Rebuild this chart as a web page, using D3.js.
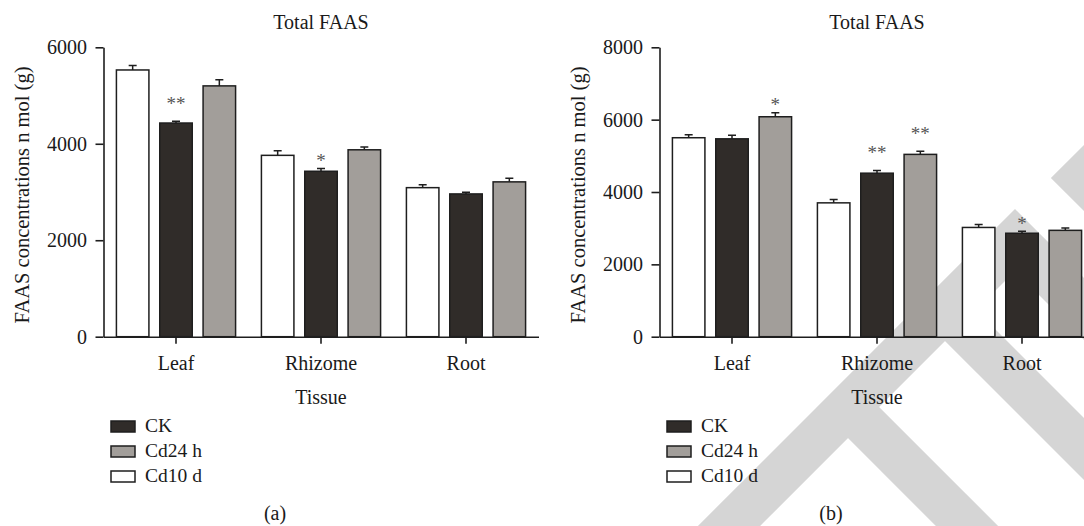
<!DOCTYPE html>
<html>
<head>
<meta charset="utf-8">
<script src="https://cdn.jsdelivr.net/npm/d3@7"></script>
<style>
  body { margin: 0; background: #fff; }
  svg text { font-family: "Liberation Serif", "DejaVu Serif", serif; fill: #1a1a1a; }
</style>
</head>
<body>
<svg width="1084" height="526"></svg>
<script>
const tissues = ["Leaf", "Rhizome", "Root"];
const series = ["Cd10 d", "CK", "Cd24 h"];       // order of bars in each group
const legendOrder = ["CK", "Cd24 h", "Cd10 d"];
const fills = { "CK": "#302c29", "Cd24 h": "#a29e9a", "Cd10 d": "#ffffff" };

// panel (a)
const aCd10 = [5530, 3760, 3090];
const aCK = [4430, 3430, 2960];
const aCd24 = [5200, 3875, 3210];
const aCd10Err = [95, 95, 60];
const aCKErr = [35, 55, 35];
const aCd24Err = [125, 60, 75];
const aStarsCK = ["**", "*", ""];
const aStarsCd24 = ["", "", ""];
const aTicks = [0, 2000, 4000, 6000];

// panel (b)
const bCd10 = [5500, 3700, 3020];
const bCK = [5470, 4520, 2860];
const bCd24 = [6080, 5040, 2940];
const bCd10Err = [85, 95, 85];
const bCKErr = [100, 75, 55];
const bCd24Err = [110, 85, 65];
const bStarsCK = ["", "**", "*"];
const bStarsCd24 = ["*", "**", ""];
const bTicks = [0, 2000, 4000, 6000, 8000];

const svg = d3.select("svg");

// light grey watermark behind panel (b)
const wm = svg.append("g").attr("fill", "none").attr("stroke", "#d5d5d5")
  .attr("stroke-width", 44).attr("stroke-linejoin", "miter");
[
  "M670,585 L1015,240 L1130,355",
  "M848,407 L1000,559",
  "M935,300 L1120,485",
  "M1160,100 L1082,178 L1160,256"
].forEach(d => wm.append("path").attr("d", d));

const plotW = 435, plotTop = 47.3, plotBottom = 336.7;

function panel(ox, values, errs, stars, ticks, tag) {
  const g = svg.append("g").attr("transform", `translate(${ox},0)`);

  const x0 = d3.scaleBand().domain(tissues).range([0, plotW]);
  const x1 = d3.scaleBand().domain(series)
    .range([(x0.bandwidth() - 130) / 2, (x0.bandwidth() + 130) / 2])
    .paddingInner(0.25).paddingOuter(0.125);
  const y = d3.scaleLinear().domain([0, d3.max(ticks)]).range([plotBottom, plotTop]);

  const rows = [];
  tissues.forEach((t, i) => {
    series.forEach(s => {
      rows.push({ t, s, v: values[s][i], e: errs[s][i], star: (stars[s] || [])[i] || "" });
    });
  });

  const bars = g.selectAll(".bar").data(rows).enter().append("g")
    .attr("transform", d => `translate(${x0(d.t) + x1(d.s)},0)`);

  bars.append("rect")
    .attr("x", 0).attr("width", x1.bandwidth())
    .attr("y", d => y(d.v)).attr("height", d => y(0) - y(d.v))
    .attr("fill", d => fills[d.s]).attr("stroke", "#1e1e1e").attr("stroke-width", 1.5);

  const cx = x1.bandwidth() / 2;
  bars.append("path")
    .attr("d", d => `M${cx},${y(d.v)}V${y(d.v + d.e)}M${cx - 4},${y(d.v + d.e)}H${cx + 4}`)
    .attr("stroke", "#1e1e1e").attr("stroke-width", 1.5).attr("fill", "none");

  bars.filter(d => d.star).append("text")
    .attr("x", cx).attr("y", d => y(d.v + d.e) - (d.star.length > 1 ? 11.5 : 1.5))
    .attr("text-anchor", "middle").style("font-size", "19px").style("fill", "#555")
    .text(d => d.star);

  const yAxis = g.append("g").call(d3.axisLeft(y).tickValues(ticks).tickSize(8)
    .tickSizeOuter(0).tickPadding(8.5).tickFormat(d3.format("d")));
  const xAxis = g.append("g").attr("transform", `translate(0,${plotBottom})`)
    .call(d3.axisBottom(x0).tickSize(7).tickSizeOuter(0));
  [yAxis, xAxis].forEach(a => {
    a.selectAll("path, line").attr("stroke", "#1e1e1e").attr("stroke-width", 1.6);
    a.selectAll("text").style("font-size", "20px").style("fill", "#1a1a1a")
      .attr("font-family", null);
  });
  xAxis.selectAll("text").attr("dy", null).attr("y", 33.5);

  g.append("text").attr("x", plotW / 2).attr("y", 29.3).attr("text-anchor", "middle")
    .style("font-size", "20px").text("Total FAAS");
  g.append("text").attr("x", plotW / 2).attr("y", 404).attr("text-anchor", "middle")
    .style("font-size", "20px").text("Tissue");
  g.append("text").attr("transform", `translate(-75,${(plotTop + plotBottom) / 2 + 3}) rotate(-90)`)
    .attr("text-anchor", "middle").style("font-size", "20.5px")
    .text("FAAS concentrations n mol (g)");

  const leg = g.selectAll(".leg").data(legendOrder).enter().append("g")
    .attr("transform", (d, i) => `translate(7.5,${421 + i * 25})`);
  leg.append("rect").attr("width", 24).attr("height", 11)
    .attr("fill", d => fills[d]).attr("stroke", "#1e1e1e").attr("stroke-width", 1.5);
  leg.append("text").attr("x", 34).attr("y", 10.5).style("font-size", "19.5px").text(d => d);

  g.append("text").attr("x", 171.5).attr("y", 520).attr("text-anchor", "middle")
    .style("font-size", "20px").text(tag);
}

panel(103.5,
  { "Cd10 d": aCd10, "CK": aCK, "Cd24 h": aCd24 },
  { "Cd10 d": aCd10Err, "CK": aCKErr, "Cd24 h": aCd24Err },
  { "CK": aStarsCK, "Cd24 h": aStarsCd24 },
  aTicks, "(a)");

panel(659.5,
  { "Cd10 d": bCd10, "CK": bCK, "Cd24 h": bCd24 },
  { "Cd10 d": bCd10Err, "CK": bCKErr, "Cd24 h": bCd24Err },
  { "CK": bStarsCK, "Cd24 h": bStarsCd24 },
  bTicks, "(b)");
</script>
</body>
</html>
